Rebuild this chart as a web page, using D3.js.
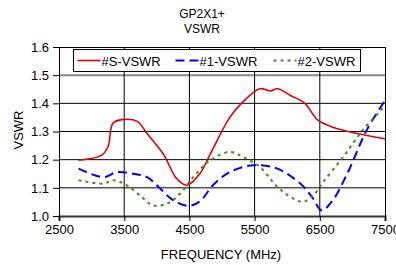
<!DOCTYPE html>
<html>
<head>
<meta charset="utf-8">
<script src="https://cdn.jsdelivr.net/npm/d3@7"></script>
<style>
  body { margin: 0; background: #fff; }
  text { font-family: "Liberation Sans", Arial, sans-serif; fill: #000; }
</style>
</head>
<body>
<div id="chart"></div>
<script>
// frequency points (MHz) and VSWR readings per series
const freqS = [2800, 3150, 3250, 3330, 3500, 3700, 3850, 4100, 4300, 4460, 4660, 4820, 5120, 5320, 5580, 5740, 5850, 6050, 6270, 6470, 6700, 7070, 7500]
const valS  = [1.198, 1.215, 1.245, 1.33, 1.343, 1.336, 1.293, 1.22, 1.134, 1.109, 1.15, 1.22, 1.35, 1.405, 1.452, 1.444, 1.452, 1.428, 1.40, 1.34, 1.315, 1.293, 1.274]

const freq1 = [2800, 3180, 3390, 3640, 3850, 4050, 4250, 4480, 4660, 4860, 5120, 5480, 5850, 6200, 6380, 6530, 6700, 6920, 7220, 7500]
const val1  = [1.168, 1.138, 1.156, 1.15, 1.138, 1.098, 1.056, 1.036, 1.052, 1.109, 1.156, 1.18, 1.168, 1.115, 1.068, 1.02, 1.056, 1.15, 1.305, 1.41]

const freq2 = [2800, 3180, 3330, 3540, 3740, 3940, 4160, 4360, 4560, 4820, 5120, 5320, 5580, 5850, 6050, 6240, 6400, 6550, 6860, 7160, 7500]
const val2  = [1.127, 1.115, 1.127, 1.109, 1.073, 1.038, 1.044, 1.08, 1.138, 1.198, 1.227, 1.21, 1.174, 1.103, 1.068, 1.05, 1.073, 1.12, 1.21, 1.305, 1.39]

const xTicks = [2500, 3500, 4500, 5500, 6500, 7500]
const yTicks = [1.0, 1.1, 1.2, 1.3, 1.4, 1.5, 1.6]
const seriesNames = ["#S-VSWR", "#1-VSWR", "#2-VSWR"]

const W = 396, H = 265
const margin = {top: 47, right: 11, bottom: 49, left: 59}
const width = W - margin.left - margin.right
const height = H - margin.top - margin.bottom

const svg = d3.select("#chart").append("svg")
    .attr("width", W).attr("height", H)

const g = svg.append("g")
    .attr("transform", `translate(${margin.left}, ${margin.top})`)

const x = d3.scaleLinear().domain([2500, 7500]).range([0, width])
const y = d3.scaleLinear().domain([1.0, 1.6]).range([height, 0])

// grid lines
g.append("g")
    .selectAll("line")
    .data(yTicks.filter(d => d > 1.0 && d < 1.6))
    .join("line")
    .attr("x1", 0).attr("x2", width)
    .attr("y1", d => y(d)).attr("y2", d => y(d))
    .attr("stroke", d => d === 1.5 ? "#888" : "#000")
    .attr("stroke-width", d => d === 1.5 ? 2 : 1)
g.append("g")
    .selectAll("line")
    .data(xTicks.slice(1, -1))
    .join("line")
    .attr("x1", d => x(d)).attr("x2", d => x(d))
    .attr("y1", 0).attr("y2", height)
    .attr("stroke", "#000")

// frame: top and right
g.append("line").attr("x1", 0).attr("x2", width).attr("y1", 0.5).attr("y2", 0.5).attr("stroke", "#000")
g.append("line").attr("x1", width + 0.5).attr("x2", width + 0.5).attr("y1", 0).attr("y2", height).attr("stroke", "#000")

// axes
const yAxis = g.append("g")
    .call(d3.axisLeft(y).tickValues(yTicks).tickFormat(d3.format(".1f")).tickSizeOuter(0).tickSize(6).tickPadding(4))
yAxis.select(".domain").attr("stroke", "#000")
yAxis.selectAll("text").attr("font-size", 13)

const xAxis = g.append("g")
    .attr("transform", `translate(0, ${height})`)
    .call(d3.axisBottom(x).tickValues(xTicks).tickFormat(d3.format("d")).tickSizeOuter(0).tickSize(5).tickPadding(4))
xAxis.select(".domain").attr("stroke", "#333").attr("stroke-width", 2)
xAxis.selectAll("text").attr("font-size", 13)
xAxis.selectAll(".tick line").attr("stroke", "#000")

// series lines
const line = d3.line()
    .x(d => x(d[0]))
    .y(d => y(d[1]))
    .curve(d3.curveCatmullRom.alpha(0.5))

const series = [
    {name: seriesNames[0], pts: d3.zip(freqS, valS), color: "#e00000", dash: null, w: 1.6},
    {name: seriesNames[1], pts: d3.zip(freq1, val1), color: "#0000ff", dash: "9,5", w: 2},
    {name: seriesNames[2], pts: d3.zip(freq2, val2), color: "#4a8a20", dash: "3,4", w: 2}
]

g.append("g")
    .selectAll("path")
    .data(series)
    .join("path")
    .attr("d", d => line(d.pts))
    .attr("fill", "none")
    .attr("stroke", d => d.color)
    .attr("stroke-width", d => d.w)
    .attr("stroke-dasharray", d => d.dash)

// legend
const legend = svg.append("g").attr("transform", "translate(73.5, 49.5)")
legend.append("rect")
    .attr("width", 287).attr("height", 22)
    .attr("fill", "#fff").attr("stroke", "#000")
const legX = [4, 102, 200]
const item = legend.selectAll("g.item")
    .data(series)
    .join("g")
    .attr("class", "item")
    .attr("transform", (d, i) => `translate(${legX[i]}, 11)`)
item.append("line")
    .attr("x1", 0).attr("x2", 23)
    .attr("stroke", d => d.color)
    .attr("stroke-width", d => d.w)
    .attr("stroke-dasharray", d => d.dash)
item.append("text")
    .attr("x", 24).attr("y", 5)
    .attr("font-size", 13)
    .text(d => d.name)

// titles
svg.append("text").attr("x", 202).attr("y", 18).attr("text-anchor", "middle").attr("font-size", 12).text("GP2X1+")
svg.append("text").attr("x", 202).attr("y", 33).attr("text-anchor", "middle").attr("font-size", 12).text("VSWR")
svg.append("text").attr("x", 221).attr("y", 259).attr("text-anchor", "middle").attr("font-size", 13).text("FREQUENCY (MHz)")
svg.append("text")
    .attr("transform", "translate(23, 130) rotate(-90)")
    .attr("text-anchor", "middle").attr("font-size", 13)
    .text("VSWR")
</script>
</body>
</html>
